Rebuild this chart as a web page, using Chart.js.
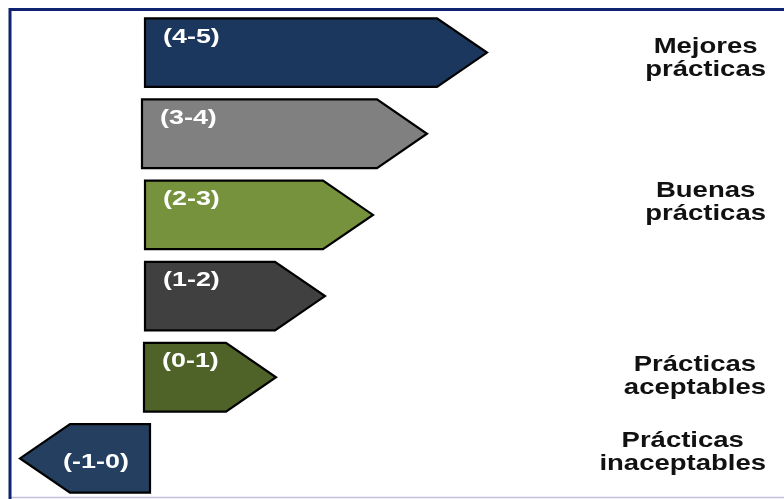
<!DOCTYPE html>
<html><head><meta charset="utf-8">
<script src="https://cdn.jsdelivr.net/npm/chart.js@4.4.0/dist/chart.umd.min.js"></script>
<style>html,body{margin:0;padding:0;background:#fff;overflow:hidden}#wrap{position:relative;width:784px;height:499px}</style>
</head><body><div id="wrap"><canvas id="c"></canvas></div>
<script>
// ---- data ----
const categories = ['(4-5)', '(3-4)', '(2-3)', '(1-2)', '(0-1)', '(-1-0)'];
const barStart = [0, -0.3, 0, 0, -0.1, 0.5];
const barEnd = [34.2, 28.2, 22.8, 18.0, 13.1, -12.5];
const levelLabels = [['Mejores', 'prácticas'], ['Buenas', 'prácticas'], ['Prácticas', 'aceptables'], ['Prácticas', 'inaceptables']];
const levelRow = [0, 2, 4, 5];

// ---- style ----
const barColors = ['#1c375e', '#808080', '#76923c', '#404040', '#4f6228', '#243f60'];
const levelNudgeY = [6, -12, -1, -6];
const BAR_FONT = 'bold 19.5px "Liberation Sans", Arial, sans-serif';
const BAR_STRETCH = 1.38;
const LEVEL_FONT = 'bold 22px "Liberation Sans", Arial, sans-serif';
const LEVEL_STRETCH = 1.25;
const LEVEL_LINE = 23;
const TIP = 50;

function stretchedText(ctx, text, x, y, align, sx) {
  ctx.save();
  ctx.translate(x, y);
  ctx.scale(sx, 1);
  ctx.textAlign = align;
  ctx.fillText(text, 0, 0);
  ctx.restore();
}

const arrowPlugin = {
  id: 'arrows',
  beforeDraw(chart) {
    const ctx = chart.ctx;
    ctx.save();
    ctx.fillStyle = '#fff';
    ctx.fillRect(0, 0, chart.width, chart.height);
    ctx.restore();
  },
  afterDatasetsDraw(chart) {
    const ctx = chart.ctx;
    const meta = chart.getDatasetMeta(0);
    meta.data.forEach((el, i) => {
      const p = el.getProps(['x', 'y', 'base', 'height'], true);
      const dir = p.x >= p.base ? 1 : -1;
      const top = p.y - p.height / 2, bot = p.y + p.height / 2;
      const bodyEnd = p.x - dir * TIP;
      ctx.save();
      ctx.beginPath();
      ctx.moveTo(p.base, top);
      ctx.lineTo(bodyEnd, top);
      ctx.lineTo(p.x, p.y);
      ctx.lineTo(bodyEnd, bot);
      ctx.lineTo(p.base, bot);
      ctx.closePath();
      ctx.fillStyle = barColors[i];
      ctx.fill();
      ctx.lineWidth = 2.2;
      ctx.strokeStyle = '#000';
      ctx.lineJoin = 'miter';
      ctx.stroke();
      // label
      ctx.font = BAR_FONT;
      ctx.fillStyle = '#ffffff';
      ctx.textBaseline = 'middle';
      if (dir > 0) {
        stretchedText(ctx, categories[i], p.base + 18, top + 19, 'left', BAR_STRETCH);
      } else {
        stretchedText(ctx, categories[i], (p.x + p.base) / 2 + 11, p.y + 4, 'center', BAR_STRETCH);
      }
      ctx.restore();
    });
    // level labels on the right
    const yScale = chart.scales.y;
    ctx.save();
    ctx.font = LEVEL_FONT;
    ctx.fillStyle = '#111111';
    ctx.textBaseline = 'middle';
    const rightEdge = 766;
    levelLabels.forEach((lines, k) => {
      const cy = yScale.getPixelForValue(levelRow[k]) + levelNudgeY[k];
      const maxW = Math.max(...lines.map(l => ctx.measureText(l).width * LEVEL_STRETCH));
      const cx = rightEdge - maxW / 2;
      lines.forEach((line, j) => {
        const ly = cy + (j - (lines.length - 1) / 2) * LEVEL_LINE;
        stretchedText(ctx, line, cx, ly, 'center', LEVEL_STRETCH);
      });
    });
    ctx.restore();
    // frame
    ctx.save();
    ctx.strokeStyle = '#c4c0dc';
    ctx.lineWidth = 1.5;
    ctx.beginPath();
    ctx.moveTo(9, 497.5); ctx.lineTo(784, 497.5);
    ctx.stroke();
    ctx.strokeStyle = '#0f2370';
    ctx.lineWidth = 3;
    ctx.beginPath();
    ctx.moveTo(10, 499); ctx.lineTo(10, 9.5); ctx.lineTo(784, 9.5);
    ctx.stroke();
    ctx.restore();
  }
};

new Chart(document.getElementById('c'), {
  type: 'bar',
  data: {
    labels: categories,
    datasets: [{
      data: categories.map((c, i) => [barStart[i], barEnd[i]]),
      backgroundColor: 'rgba(0,0,0,0)',
      borderWidth: 0,
      barPercentage: 0.845,
      categoryPercentage: 1
    }]
  },
  options: {
    indexAxis: 'y',
    responsive: true,
    maintainAspectRatio: false,
    animation: false,
    layout: { padding: { top: 12, bottom: -4, left: 0, right: 0 } },
    plugins: { legend: { display: false }, tooltip: { enabled: false } },
    scales: {
      x: { type: 'linear', min: -14.5, max: 63.9, display: false },
      y: { display: false }
    }
  },
  plugins: [arrowPlugin]
});
</script>
</body></html>
